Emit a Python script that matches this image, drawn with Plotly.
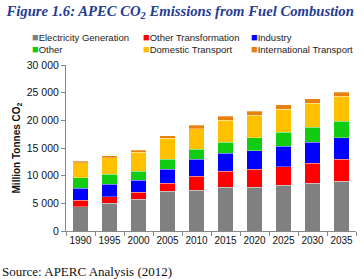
import plotly.graph_objects as go

years = ["1990", "1995", "2000", "2005", "2010", "2015", "2020", "2025", "2030", "2035"]

electricity = [4390, 5000, 5780, 7220, 7340, 7890, 7890, 8250, 8610, 9030]
other_transf = [1210, 1200, 1200, 1440, 2530, 2890, 3250, 3360, 3660, 3910]
industry = [2100, 2280, 2170, 2530, 3070, 3300, 3360, 3680, 3800, 3900]
other = [1920, 1750, 1680, 1810, 1860, 1990, 2340, 2530, 2650, 2960]
domestic_tr = [2710, 3010, 3370, 3730, 3670, 3910, 4100, 4200, 4380, 4510]
intl_tr = [250, 360, 360, 470, 610, 720, 720, 780, 780, 780]

names = ["Electricity Generation", "Other Transformation", "Industry",
         "Other", "Domestic Transport", "International Transport"]
series = [electricity, other_transf, industry, other, domestic_tr, intl_tr]
colors = ["#808080", "#FF0000", "#0000FF", "#11CC11", "#FFC000", "#E8800E"]

fig = go.Figure()
for name, vals, col in zip(names, series, colors):
    fig.add_trace(go.Bar(x=years, y=vals, name=name, marker_color=col,
                         marker_line=dict(color="rgba(255,255,255,0.6)", width=0.5),
                         showlegend=False))

# plot area in pixels: x 66..356, y 65..231
def px(x):
    return (x - 66) / 290

def py(y):
    return (231 - y) / 166

# legend drawn as two rows of three entries
leg_x = [30, 141, 249]
leg_y = [37, 49]
for i, (name, col) in enumerate(zip(names, colors)):
    fig.add_annotation(
        text='<span style="color:%s;font-size:11px">■</span>%s' % (col, name),
        xref="paper", yref="paper", showarrow=False,
        x=px(leg_x[i % 3]), y=py(leg_y[i // 3]),
        xanchor="left", yanchor="middle",
        font=dict(family="Liberation Sans, Arial", size=9.5, color="#222222"))

fig.add_annotation(text="Source: APERC Analysis (2012)", xref="paper", yref="paper",
                   x=px(0), y=py(271), xanchor="left", yanchor="middle", showarrow=False,
                   font=dict(family="Liberation Serif, Times New Roman", size=13, color="#111111"))

fig.update_layout(
    barmode="stack", bargap=0.48,
    width=364, height=279,
    margin=dict(l=66, r=8, t=65, b=48),
    paper_bgcolor="white", plot_bgcolor="white",
    separators=". ",
    title=dict(text="<b><i>Figure 1.6: APEC CO<sub>2</sub> Emissions from Fuel Combustion</i></b>",
               x=0.495, xanchor="center", y=0.962, yanchor="middle", xref="container", yref="container",
               font=dict(family="Liberation Serif, Times New Roman", size=14.7, color="#243C92")),
    font=dict(family="Liberation Sans, Arial", size=10, color="#111111"),
    xaxis=dict(type="category", showline=True, linecolor="#888888", linewidth=1,
               ticks="outside", tickson="boundaries", ticklen=4, tickcolor="#888888",
               showgrid=False, tickangle=0, automargin=False, tickfont=dict(size=10)),
    yaxis=dict(range=[0, 30000], dtick=5000, tickformat=",d", showline=True,
               linecolor="#888888", linewidth=1, ticks="outside", ticklen=4,
               tickcolor="#888888", showgrid=False, zeroline=False, automargin=False,
               tickfont=dict(size=10.5),
               title=dict(text="<b>Million Tonnes CO<sub>2</sub></b>", standoff=4,
                          font=dict(size=10))),
)

# the page body has an 8px default margin; drop it so the figure fills the window
fig.write_html("out.html", config={"displayModeBar": False},
               post_script="document.body.style.margin='0';")
